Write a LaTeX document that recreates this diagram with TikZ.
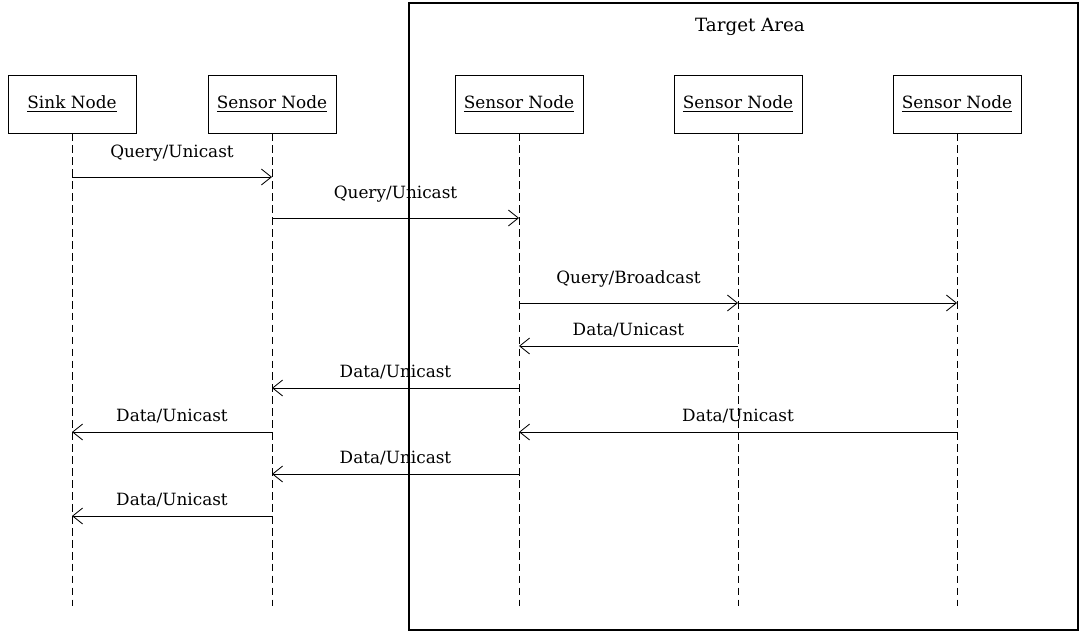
\documentclass[tikz,border=0pt]{standalone}
\usepackage{fontspec}
\setmainfont{DejaVu Serif}
\usetikzlibrary{arrows.meta}
\begin{document}
\begin{tikzpicture}
[x=0.025cm,y=-0.025cm,
  font=\fontsize{12}{14}\selectfont,
  boxdecorate/.style={shape=rectangle,draw,line width=0.6pt,
    minimum width=3.2cm,minimum height=1.45cm},%
  lifedecorate/.style={line width=0.6pt,dash pattern=on 5.5pt off 3pt},%
  msgdecorate/.style={line width=0.6pt,-{Straight Barb[length=2.5mm,width=4mm]}},%
  areadecorate/.style={line width=0.8pt}]
\useasboundingbox (0,0) rectangle (1081,632);
%% target area
\draw[areadecorate] (409,3) rectangle (1078,630);
\node (title) at (750,27) [font=\fontsize{13}{15}\selectfont] {Target Area};
%% nodes and lifelines
\foreach \nodename/\x/\txt in {sink/72/Sink Node, s1/272/Sensor Node,
  s2/519/Sensor Node, s3/738/Sensor Node, s4/957/Sensor Node} {
  \node (\nodename) at (\x,104) [boxdecorate,fill=white] {\underline{\txt}};
  \coordinate (\nodename-end) at (\x,606);
  \draw[lifedecorate] (\nodename) -- (\nodename-end);
}
%% messages
\foreach \startnode/\endnode/\y/\txt/\dy in {sink/s1/177/{Query/Unicast}/20,
  s1/s2/218/{Query/Unicast}/20, s2/s3/303/{Query/Broadcast}/20,
  s3/s2/346/{Data/Unicast}/11, s2/s1/388/{Data/Unicast}/11,
  s1/sink/432/{Data/Unicast}/11, s4/s2/432/{Data/Unicast}/11,
  s2/s1/474/{Data/Unicast}/11, s1/sink/516/{Data/Unicast}/11} {
  \draw[msgdecorate] (\startnode |- 0,\y) -- (\endnode |- 0,\y)
    node[midway,anchor=base,yshift=\dy*0.709pt] {\txt};
}
\draw[msgdecorate] (s3 |- 0,303) -- (s4 |- 0,303);
\end{tikzpicture}
\end{document}
